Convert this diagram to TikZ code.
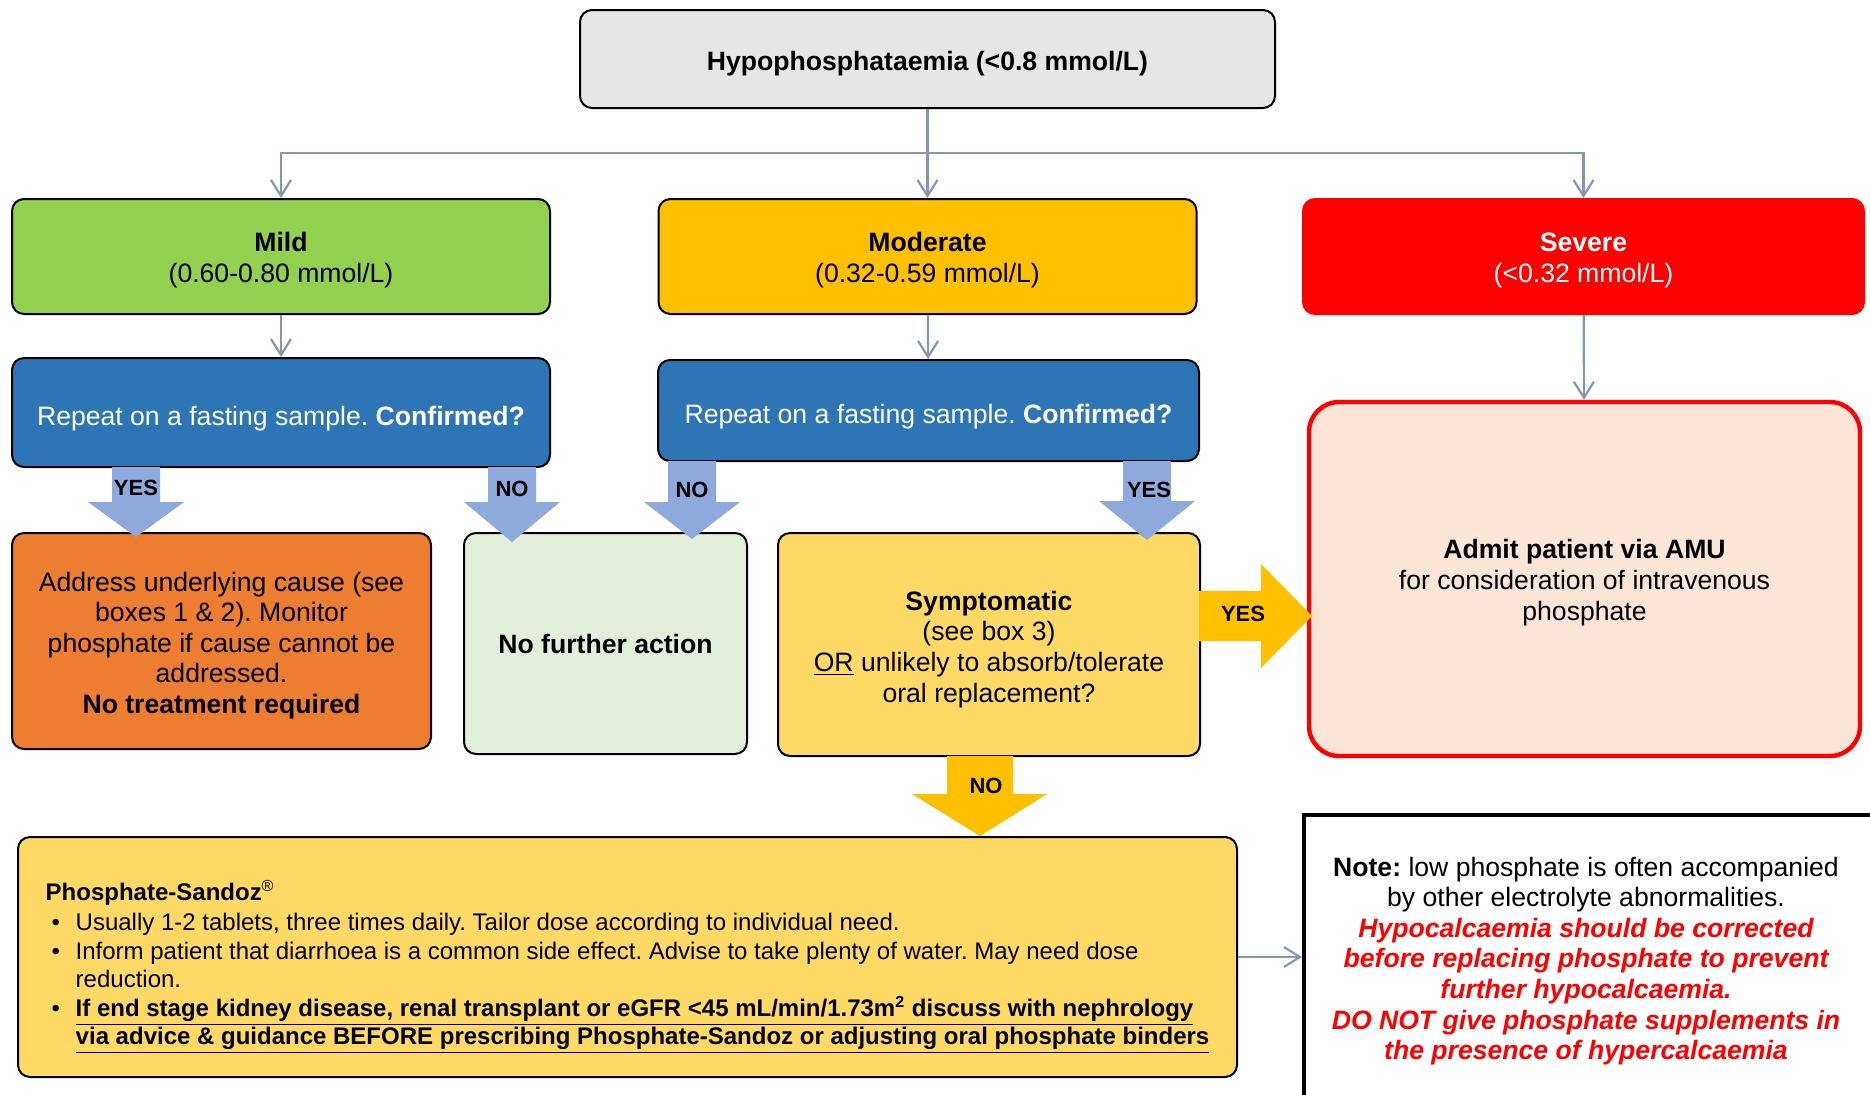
\documentclass[tikz,border=0pt]{standalone}
\usepackage{fontspec}
\setmainfont{Liberation Sans}
\usetikzlibrary{arrows.meta}
\definecolor{topgray}{HTML}{E6E6E6}
\definecolor{mildgreen}{HTML}{92D050}
\definecolor{modamber}{HTML}{FFC000}
\definecolor{sevred}{HTML}{FF0000}
\definecolor{askblue}{HTML}{2E75B6}
\definecolor{causeorange}{HTML}{ED7D31}
\definecolor{palegreen}{HTML}{E2EFDA}
\definecolor{paleyellow}{HTML}{FFD966}
\definecolor{admitpink}{HTML}{FBE5D6}
\definecolor{arrowblue}{HTML}{8EA9DB}
\definecolor{linkgray}{HTML}{8497B0}
\newcommand{\lift}[1]{\rule{0pt}{#1}}
\tikzset{
  box/.style={draw=black,line width=1pt,rounded corners=6pt,align=center,inner sep=0pt,
    font=\fontsize{13.3}{15.3}\selectfont},
  link/.style={draw=linkgray,line width=1.1pt,-{Straight Barb[length=8pt,width=10pt]}},
  tag/.style={font=\fontsize{11}{13}\selectfont\bfseries},
}

\begin{document}
\frenchspacing
\begin{tikzpicture}[x=0.5pt,y=-0.5pt]
\useasboundingbox (0,0) rectangle (1870,1094);
\clip (0,0) rectangle (1870,1094);
% top row
\node[box,fill=topgray,minimum width=347.5pt,minimum height=49pt] (hypo) at (927.5,59) {\lift{14.5pt}\textbf{Hypophosphataemia (<0.8 mmol/L)}};
\node[box,fill=mildgreen,minimum width=269pt,minimum height=57.5pt] (mild) at (281,256.5) {\lift{13pt}\textbf{Mild}\\(0.60-0.80 mmol/L)};
\node[box,fill=modamber,minimum width=269pt,minimum height=57.5pt] (moderate) at (927.5,256.5) {\lift{13pt}\textbf{Moderate}\\(0.32-0.59 mmol/L)};
\node[box,draw=sevred,fill=sevred,text=white,minimum width=280.5pt,minimum height=57.5pt] (severe) at (1583.5,256.5) {\lift{13pt}\textbf{Severe}\\(<0.32 mmol/L)};
% repeat tests
\node[box,fill=askblue,text=white,minimum width=269pt,minimum height=54.5pt] (askA) at (281,412.5) {\lift{15.5pt}Repeat on a fasting sample. \textbf{Confirmed?}};
\node[box,fill=askblue,text=white,minimum width=270.5pt,minimum height=50.5pt] (askB) at (928.5,410.5) {\lift{15.5pt}Repeat on a fasting sample. \textbf{Confirmed?}};
% outcomes
\node[box,fill=causeorange,minimum width=209.5pt,minimum height=108pt] (cause) at (221.5,641)
  {\lift{14pt}Address underlying cause (see\\boxes 1 \& 2). Monitor\\phosphate if cause cannot be\\addressed.\\\textbf{No treatment required}};
\node[box,fill=palegreen,minimum width=141.5pt,minimum height=110.5pt] (nofurther) at (605.5,643.5) {\textbf{No further action}};
\node[box,fill=paleyellow,minimum width=211pt,minimum height=111.5pt] (sympt) at (989,644.5)
  {\lift{14.5pt}\textbf{Symptomatic}\\(see box 3)\\\underline{OR} unlikely to absorb/tolerate\\oral replacement?};
\node[box,draw=sevred,line width=2.2pt,rounded corners=15pt,fill=admitpink,minimum width=275.5pt,minimum height=177pt] (admit) at (1584.5,579)
  {\lift{13.3pt}\textbf{Admit patient via AMU}\\for consideration of intravenous\\phosphate};
% treatment and note
\node[box,fill=paleyellow,align=left,minimum width=609.5pt,minimum height=120pt,font=\fontsize{12}{14.2}\selectfont] (sandoz) at (627.5,957)
  {\lift{20pt}\textbf{Phosphate-Sandoz}\textsuperscript{\textregistered}\\[1pt]
   \makebox[15pt][l]{\hspace{3pt}\textbullet}Usually 1-2 tablets, three times daily. Tailor dose according to individual need.\\
   \makebox[15pt][l]{\hspace{3pt}\textbullet}Inform patient that diarrhoea is a common side effect. Advise to take plenty of water. May need dose\\
   \hspace*{15pt}reduction.\\
   \makebox[15pt][l]{\hspace{3pt}\textbullet}\underline{\textbf{If end stage kidney disease, renal transplant or eGFR <45 mL/min/1.73m\textsuperscript{2} discuss with nephrology}}\\
   \hspace*{15pt}\underline{\textbf{via advice \& guidance BEFORE prescribing Phosphate-Sandoz or adjusting oral phosphate binders}}};
\node[draw=black,line width=2pt,minimum width=293pt,minimum height=147.5pt] (note) at (1597,962.5) {};
\node[align=center,font=\fontsize{13.3}{15.3}\selectfont] (notetext) at (1586,961)
  {\textbf{Note:} low phosphate is often accompanied\\by other electrolyte abnormalities.\\
   \textcolor{sevred}{\bfseries\itshape Hypocalcaemia should be corrected}\\
   \textcolor{sevred}{\bfseries\itshape before replacing phosphate to prevent}\\
   \textcolor{sevred}{\bfseries\itshape further hypocalcaemia.}\\
   \textcolor{sevred}{\bfseries\itshape DO NOT give phosphate supplements in}\\
   \textcolor{sevred}{\bfseries\itshape the presence of hypercalcaemia}};
% thin connectors
\coordinate (fork) at (927.5,153);
\draw[link] (hypo) -- (moderate);
\draw[link] (fork) -| (mild);
\draw[link] (fork) -| (severe);
\draw[link] (mild) -- (askA);
\draw[link] (moderate) -- (askB);
\draw[link] (severe) -- (admit);
\draw[link] (sandoz.east) -- (sandoz.east -| note.west);
% block arrows
\fill[arrowblue] (112,467) -- (160,467) -- (160,502) -- (184,502) -- (136,537) -- (88,502) -- (112,502) -- cycle;
\fill[arrowblue] (488,467) -- (536,467) -- (536,502) -- (560,502) -- (512,542) -- (464,502) -- (488,502) -- cycle;
\fill[arrowblue] (668,461) -- (716,461) -- (716,502) -- (740,502) -- (692,539) -- (644,502) -- (668,502) -- cycle;
\fill[arrowblue] (1123,461) -- (1171,461) -- (1171,501) -- (1195,501) -- (1147,540) -- (1099,501) -- (1123,501) -- cycle;
\fill[modamber] (1199,591) -- (1261,591) -- (1261,564) -- (1312,616) -- (1261,668) -- (1261,641) -- (1199,641) -- cycle;
\fill[modamber] (947,756) -- (1013,756) -- (1013,794) -- (1047,794) -- (980,836) -- (912,794) -- (947,794) -- cycle;
\node[tag] (yesA) at (136,488) {YES};
\node[tag] (noA) at (512,489) {NO};
\node[tag] (noB) at (692,490) {NO};
\node[tag] (yesB) at (1149,490) {YES};
\node[tag] (yesC) at (1243,614) {YES};
\node[tag] (noC) at (986,786) {NO};
\end{tikzpicture}
\end{document}
